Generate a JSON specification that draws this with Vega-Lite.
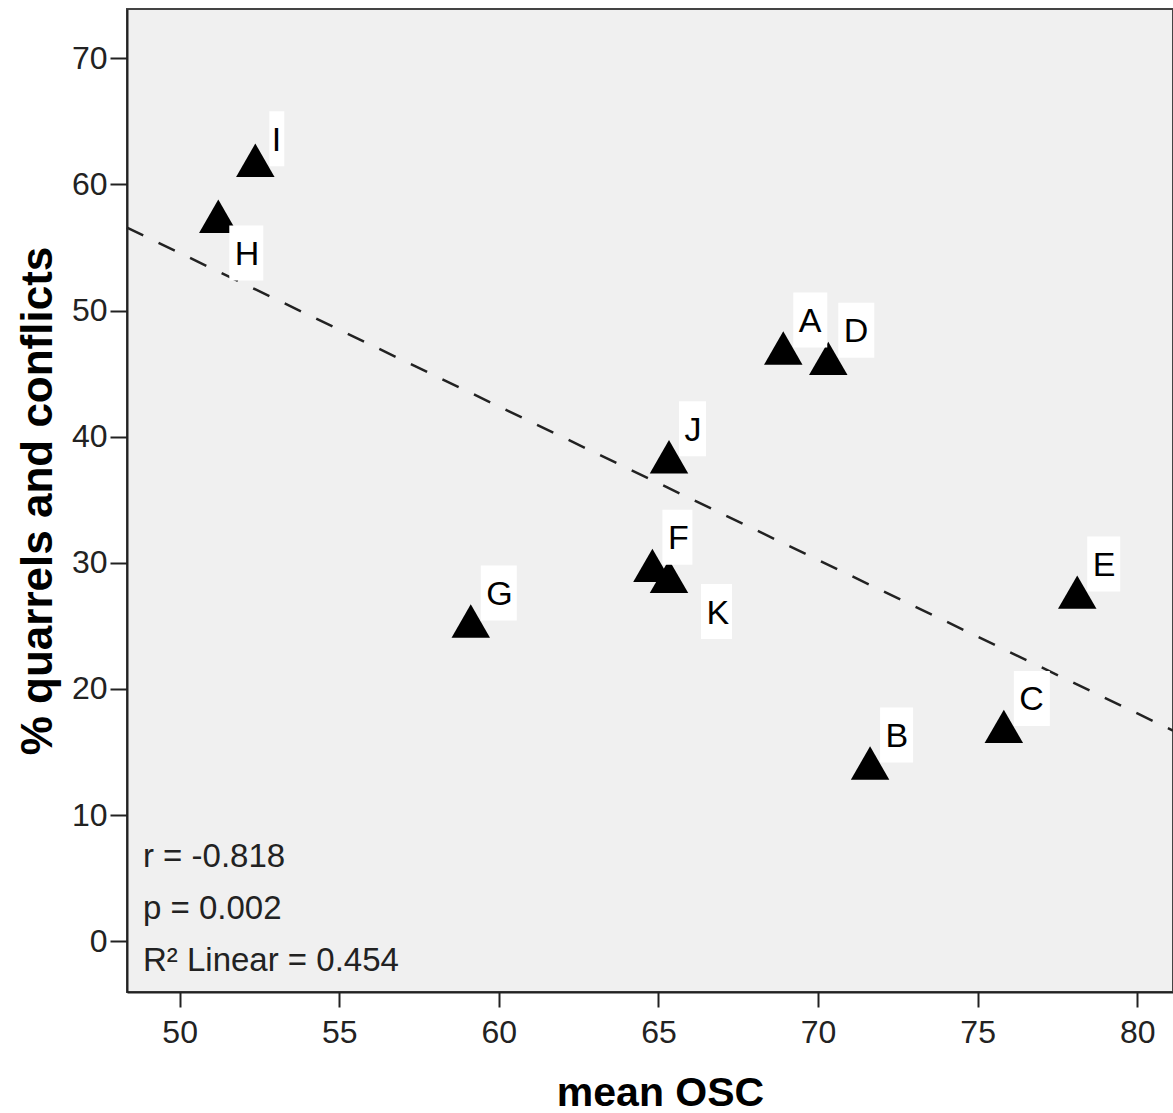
{
  "$schema": "https://vega.github.io/schema/vega-lite/v6.json",
  "width": 1046,
  "height": 983,
  "autosize": {"type": "none"},
  "padding": {"left": 127, "top": 9, "right": 0, "bottom": 121},
  "background": "white",
  "config": {
    "view": {"fill": "#f0f0f0", "stroke": "#444444", "strokeWidth": 2},
    "font": "Liberation Sans"
  },
  "datasets": {
    "points": [
      {"label": "A", "osc": 68.91, "pct": 47.03},
      {"label": "B", "osc": 71.63, "pct": 14.13},
      {"label": "C", "osc": 75.82, "pct": 17.03},
      {"label": "D", "osc": 70.32, "pct": 46.21},
      {"label": "E", "osc": 78.12, "pct": 27.68},
      {"label": "F", "osc": 64.81, "pct": 29.80},
      {"label": "G", "osc": 59.12, "pct": 25.39},
      {"label": "H", "osc": 51.21, "pct": 57.47},
      {"label": "I", "osc": 52.37, "pct": 61.91},
      {"label": "J", "osc": 65.33, "pct": 38.41},
      {"label": "K", "osc": 65.33, "pct": 28.93}
    ],
    "fit": [
      {"osc": 48.35, "pct": 56.57},
      {"osc": 81.12, "pct": 16.7}
    ],
    "stats": [
      {"stat": "r", "text": "r = -0.818"}
    ]
  },
  "layer": [
    {
      "data": {"name": "fit"},
      "mark": {"type": "line", "color": "#222222", "strokeWidth": 2.5, "strokeDash": [18, 17]},
      "encoding": {
        "x": {
          "field": "osc", "type": "quantitative",
          "scale": {"domain": [48.35, 81.12], "nice": false, "zero": false},
          "axis": {
            "values": [50, 55, 60, 65, 70, 75, 80],
            "grid": false, "labelFlush": false,
            "tickSize": 15, "tickWidth": 2, "tickColor": "#222222",
            "domainColor": "#222222", "domainWidth": 2,
            "labelFontSize": 32, "labelColor": "#222222", "labelPadding": 10,
            "title": "mean OSC", "titleFontSize": 41, "titleFontWeight": "bold", "titleColor": "#000000",
            "titleX": 533, "titleY": 81, "titleBaseline": "top"
          }
        },
        "y": {
          "field": "pct", "type": "quantitative",
          "scale": {"domain": [-4.02, 73.9], "nice": false, "zero": false},
          "axis": {
            "values": [0, 10, 20, 30, 40, 50, 60, 70],
            "grid": false, "labelFlush": false,
            "tickSize": 17, "tickWidth": 2, "tickColor": "#222222",
            "domainColor": "#222222", "domainWidth": 2,
            "labelFontSize": 32, "labelColor": "#222222", "labelPadding": 3,
            "title": "% quarrels and conflicts", "titleFontSize": 44, "titleFontWeight": "bold", "titleColor": "#000000",
            "titleX": -67, "titleBaseline": "bottom"
          }
        }
      }
    },
    {
      "data": {"name": "points"},
      "mark": {"type": "point", "shape": "triangle-up", "filled": true, "color": "#000000", "opacity": 1, "size": 1480},
      "encoding": {
        "x": {"field": "osc", "type": "quantitative"},
        "y": {"field": "pct", "type": "quantitative"}
      }
    },
    {
      "data": {"name": "points"},
      "transform": [{"filter": "datum.label !== 'H' && datum.label !== 'K' && datum.label !== 'I'"}],
      "mark": {"type": "point", "filled": true, "color": "#ffffff", "opacity": 1, "size": 3025, "xOffset": 10, "yOffset": -28},
      "encoding": {
        "x": {"field": "osc", "type": "quantitative"},
        "y": {"field": "pct", "type": "quantitative"},
        "shape": {"field": "label", "type": "nominal", "legend": null,
          "scale": {"domain": ["A","B","C","D","E","F","G","H","I","J","K"],
            "range": ["M0,-1H1.236V1H0Z","M0,-1H1.2V1H0Z","M0,-1H1.309V1H0Z","M0,-1H1.309V1H0Z","M0,-1H1.2V1H0Z","M0,-1H1.091V1H0Z","M0,-1H1.309V1H0Z","M0,-1H1.236V1H0Z","M0,-1H0.545V1H0Z","M0,-1H0.982V1H0Z","M0,-1H1.127V1H0Z"]}}
      }
    },
    {
      "data": {"name": "points"},
      "transform": [{"filter": "datum.label === 'I'"}],
      "mark": {"type": "point", "filled": true, "color": "#ffffff", "opacity": 1, "size": 3025, "xOffset": 14, "yOffset": -21.5},
      "encoding": {
        "x": {"field": "osc", "type": "quantitative"},
        "y": {"field": "pct", "type": "quantitative"},
        "shape": {"field": "label", "type": "nominal", "legend": null}
      }
    },
    {
      "data": {"name": "points"},
      "transform": [{"filter": "datum.label === 'H'"}],
      "mark": {"type": "point", "filled": true, "color": "#ffffff", "opacity": 1, "size": 3025, "xOffset": 11, "yOffset": 36.7},
      "encoding": {
        "x": {"field": "osc", "type": "quantitative"},
        "y": {"field": "pct", "type": "quantitative"},
        "shape": {"field": "label", "type": "nominal", "legend": null}
      }
    },
    {
      "data": {"name": "points"},
      "transform": [{"filter": "datum.label === 'K'"}],
      "mark": {"type": "point", "filled": true, "color": "#ffffff", "opacity": 1, "size": 3025, "xOffset": 32, "yOffset": 35.3},
      "encoding": {
        "x": {"field": "osc", "type": "quantitative"},
        "y": {"field": "pct", "type": "quantitative"},
        "shape": {"field": "label", "type": "nominal", "legend": null}
      }
    },
    {
      "data": {"name": "points"},
      "transform": [{"filter": "datum.label !== 'H' && datum.label !== 'K' && datum.label !== 'I'"}],
      "mark": {"type": "text", "align": "left", "baseline": "middle", "fontSize": 34, "color": "#000000", "dx": 15.5, "dy": -26},
      "encoding": {
        "x": {"field": "osc", "type": "quantitative"},
        "y": {"field": "pct", "type": "quantitative"},
        "text": {"field": "label"}
      }
    },
    {
      "data": {"name": "points"},
      "transform": [{"filter": "datum.label === 'I'"}],
      "mark": {"type": "text", "align": "left", "baseline": "middle", "fontSize": 34, "color": "#000000", "dx": 16.5, "dy": -19.5},
      "encoding": {
        "x": {"field": "osc", "type": "quantitative"},
        "y": {"field": "pct", "type": "quantitative"},
        "text": {"field": "label"}
      }
    },
    {
      "data": {"name": "points"},
      "transform": [{"filter": "datum.label === 'H'"}],
      "mark": {"type": "text", "align": "left", "baseline": "middle", "fontSize": 34, "color": "#000000", "dx": 16.5, "dy": 38.7},
      "encoding": {
        "x": {"field": "osc", "type": "quantitative"},
        "y": {"field": "pct", "type": "quantitative"},
        "text": {"field": "label"}
      }
    },
    {
      "data": {"name": "points"},
      "transform": [{"filter": "datum.label === 'K'"}],
      "mark": {"type": "text", "align": "left", "baseline": "middle", "fontSize": 34, "color": "#000000", "dx": 37.5, "dy": 37.3},
      "encoding": {
        "x": {"field": "osc", "type": "quantitative"},
        "y": {"field": "pct", "type": "quantitative"},
        "text": {"field": "label"}
      }
    },
    {
      "data": {"name": "stats"},
      "mark": {"type": "text", "align": "left", "baseline": "alphabetic", "fontSize": 33, "color": "#222222", "text": "r = -0.818"},
      "encoding": {
        "x": {"datum": 48.85},
        "y": {"datum": 5.85}
      }
    },
    {
      "data": {"name": "stats"},
      "mark": {"type": "text", "align": "left", "baseline": "alphabetic", "fontSize": 33, "color": "#222222", "text": "p = 0.002"},
      "encoding": {
        "x": {"datum": 48.85},
        "y": {"datum": 1.73}
      }
    },
    {
      "data": {"name": "stats"},
      "mark": {"type": "text", "align": "left", "baseline": "alphabetic", "fontSize": 33, "color": "#222222", "text": "R² Linear = 0.454"},
      "encoding": {
        "x": {"datum": 48.85},
        "y": {"datum": -2.39}
      }
    }
  ]
}
